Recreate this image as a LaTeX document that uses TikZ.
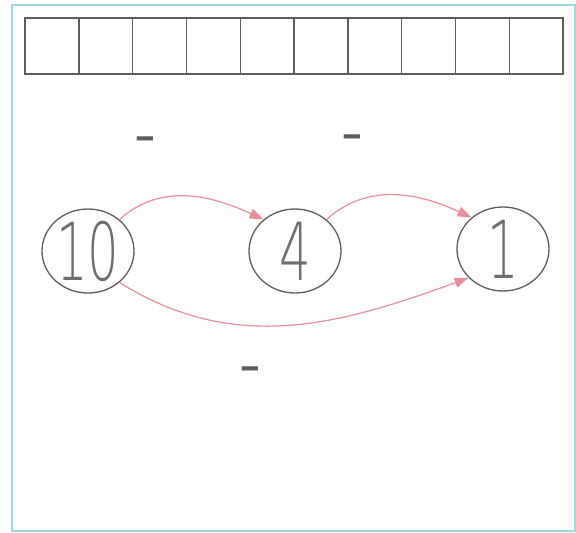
\documentclass[tikz,border=0pt]{standalone}
\usepackage{fontspec}
\setmainfont{Fira Sans}
\newfontfamily\digitfont[FakeStretch=0.62]{DejaVu Sans ExtraLight}
\usepackage{xcolor}
\usepackage{tikz}
\usetikzlibrary{arrows.meta, shapes.geometric}

\definecolor{framecyan}{HTML}{9ED8DE}
\definecolor{gridgray}{HTML}{5E5E5E}
\definecolor{arrowpink}{HTML}{E27B8C}

\tikzset{
    numcircle/.style={shape=ellipse, draw=gridgray, line width=1.3pt, minimum width=92pt, minimum height=84pt, inner sep=-10pt, font=\digitfont\fontsize{80}{80}\selectfont, text=gridgray!90},
    jump/.style={draw=arrowpink!85, line width=1.2pt, -{Triangle[length=14pt, width=10pt]}},
    blank/.style={font=\fontsize{34}{34}\selectfont\bfseries, text=gridgray}
}

\begin{document}
\begin{tikzpicture}[x=1pt, y=-1pt]
            \useasboundingbox (0, 0) rectangle (576, 533);
            \draw[framecyan, line width=1.4pt] (12, 5) rectangle (575, 531);

            % row of ten boxes
            \foreach \i in {0,...,9}
                \draw[gridgray, line width=1.4pt] (25+53.8*\i, 18) rectangle (25+53.8*\i+53.8, 74);

            \node[blank] (m1) at (145, 143) {–};
            \node[blank] (m2) at (352, 141) {–};
            \node[blank] (m3) at (250, 373) {–};

            \node[numcircle] (ten) at (88, 251) {10};
            \node[numcircle] (four) at (295, 251) {4};
            \node[numcircle] (one) at (503, 249) {1};

            \draw[jump] (ten.45) to[out=42, in=155] (four.135);
            \draw[jump] (four.45) to[out=42, in=155] (one.135);
            \draw[jump] (ten.-45) to[out=-32, in=200] (one.-140);

        \end{tikzpicture}
\end{document}
